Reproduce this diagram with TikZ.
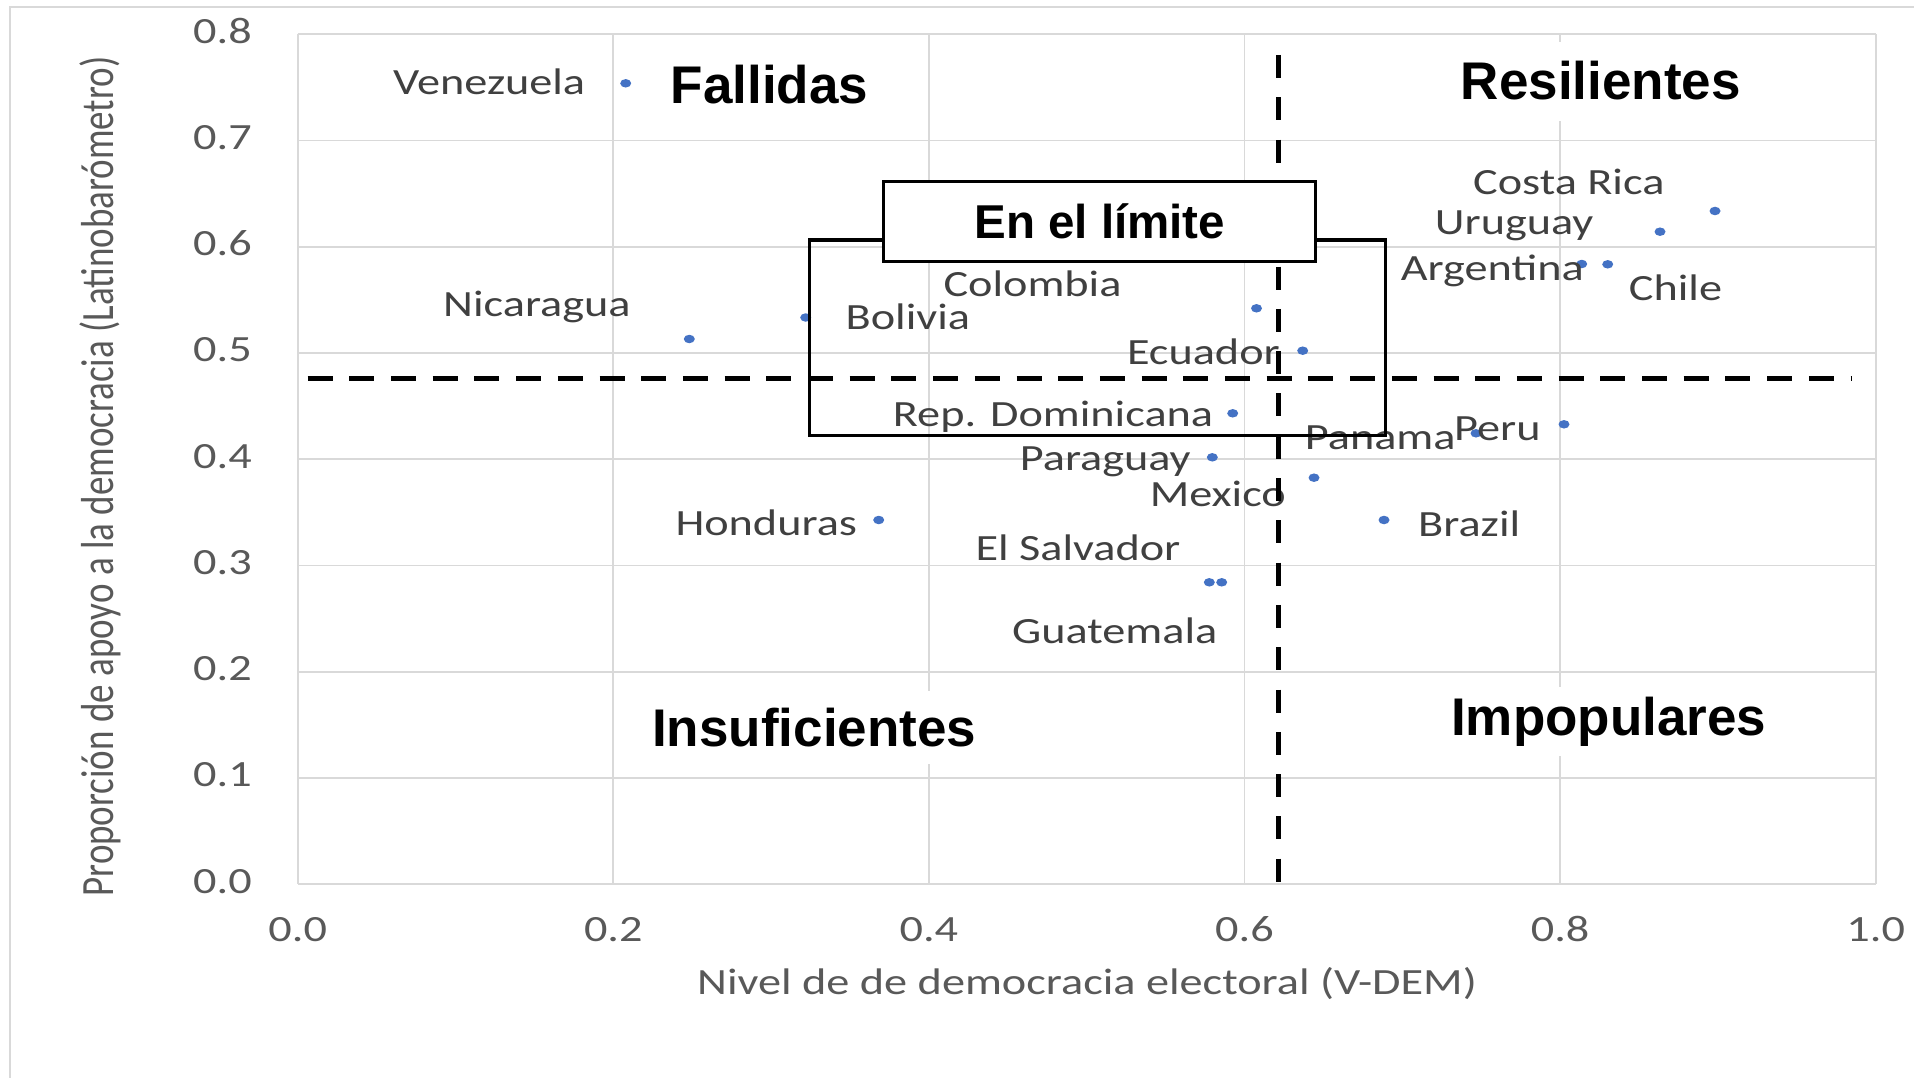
\documentclass[tikz,border=0pt]{standalone}
\usepackage{fontspec}
\setmainfont{Carlito}
\newfontfamily\lsans{Liberation Sans}
\usepackage{graphicx}
\usetikzlibrary{shapes.geometric}
\definecolor{gridc}{HTML}{D9D9D9}
\definecolor{labc}{HTML}{404040}
\definecolor{tickc}{HTML}{595959}
\definecolor{dotc}{HTML}{4472C4}
\newcommand{\stretchtxt}[1]{\scalebox{1.25}[1]{#1}}
\begin{document}
\begin{tikzpicture}[x=1pt,y=-1pt,
  gridline/.style={draw=gridc, line width=1.8},
  dot/.style={ellipse, fill=dotc, inner sep=0, minimum width=11, minimum height=8.5},
  lbl/.style={text=labc, inner sep=0, anchor=base west, font=\fontsize{37}{41}\selectfont},
  ticklbl/.style={text=tickc, inner sep=0, font=\fontsize{37}{41}\selectfont},
  quad/.style={fill=white, inner xsep=10, anchor=base west, font=\lsans\bfseries\fontsize{53}{60}\selectfont},
  divline/.style={line width=5, dash pattern=on 23 off 19.3},
  boxline/.style={draw=black, line width=3}
]
\useasboundingbox (0,0) rectangle (1914,1078);
\fill[white] (0,0) rectangle (1914,1078);
% outer chart frame
\draw[gridc, line width=2] (10,1078) -- (10,7.5) -- (1914,7.5);
% grid
\foreach \i in {0,...,5} \draw[gridline] ({297.7+315.6*\i},34.3) -- ({297.7+315.6*\i},884.3);
\foreach \j in {0,...,8} \draw[gridline] (297.7,{884.3-106.25*\j}) -- (1875.7,{884.3-106.25*\j});
% tick labels
\foreach \i/\t in {0/0.0,1/0.2,2/0.4,3/0.6,4/0.8,5/1.0}
  \node[ticklbl, anchor=base] (xt\i) at ({297.7+315.6*\i},941.7) {\stretchtxt{\t}};
\foreach \j/\t in {0/0.0,1/0.1,2/0.2,3/0.3,4/0.4,5/0.5,6/0.6,7/0.7,8/0.8}
  \node[ticklbl, anchor=base east] (yt\j) at (252,{884.3-106.25*\j+8.9}) {\stretchtxt{\t}};
% axis titles
\node[ticklbl, anchor=base] (xtitle) at (1087,994) {\stretchtxt{Nivel de de democracia electoral (V-DEM)}};
\node[ticklbl, anchor=base, rotate=90] (ytitle) at (113,476.5) {\scalebox{1}[1.25]{Proporción de apoyo a la democracia (Latinobarómetro)}};
% quadrant titles
\node[quad, inner ysep=12] (fall) at (660.7,104) {Fallidas};
\node[quad, inner ysep=20] (resil) at (1450.7,100) {Resilientes};
\node[quad, inner ysep=17] (insuf) at (642,746) {Insuficientes};
\node[quad, inner ysep=10] (impop) at (1441,735) {Impopulares};
% data points
\node[dot] (pven) at (625.7,83.3) {};
\node[dot] (pnic) at (689.3,339) {};
\node[dot] (pbol) at (805.7,317.5) {};
\node[dot] (pcol) at (1256.5,308.3) {};
\node[dot] (pecu) at (1302.7,350.7) {};
\node[dot] (prd) at (1232.7,413.3) {};
\node[dot] (ppar) at (1212.3,457.3) {};
\node[dot] (pmex) at (1314,477.7) {};
\node[dot] (phon) at (878.7,520) {};
\node[dot] (psal) at (1209.3,582.3) {};
\node[dot] (pgua) at (1221.7,582.3) {};
\node[dot] (ppan) at (1476,433.3) {};
\node[dot] (pper) at (1564,424.3) {};
\node[dot] (pbra) at (1384,520) {};
\node[dot] (pcr) at (1715,211) {};
\node[dot] (puru) at (1660,231.7) {};
\node[dot] (parg) at (1581.7,264) {};
\node[dot] (pchi) at (1607.7,264.3) {};
% data labels
\node[lbl] (lven) at (393,95) {\stretchtxt{Venezuela}};
\node[lbl] (lnic) at (443,316.7) {\stretchtxt{Nicaragua}};
\node[lbl] (lbol) at (845.5,329.5) {\stretchtxt{Bolivia}};
\node[lbl] (lcol) at (943.3,296.7) {\stretchtxt{Colombia}};
\node[lbl] (lecu) at (1126.8,364) {\stretchtxt{Ecuador}};
\node[lbl] (lrd) at (892.7,426.7) {\stretchtxt{Rep. Dominicana}};
\node[lbl] (lpar) at (1019.7,470.7) {\stretchtxt{Paraguay}};
\node[lbl, anchor=base east] (lmex) at (1286,506) {\stretchtxt{Mexico}};
\node[lbl] (lhon) at (675.3,535) {\stretchtxt{Honduras}};
\node[lbl] (lsal) at (975.3,560) {\stretchtxt{El Salvador}};
\node[lbl] (lgua) at (1012,643.3) {\stretchtxt{Guatemala}};
\node[lbl] (lpan) at (1304.7,449.3) {\stretchtxt{Panama}};
\node[lbl] (lper) at (1454,440) {\stretchtxt{Peru}};
\node[lbl] (lbra) at (1418,536.7) {\stretchtxt{Brazil}};
\node[lbl] (lcr) at (1473,195) {\stretchtxt{Costa Rica}};
\node[lbl] (luru) at (1434.7,235) {\stretchtxt{Uruguay}};
\node[lbl] (larg) at (1400.7,280) {\stretchtxt{Argentina}};
\node[lbl] (lchi) at (1628.7,300) {\stretchtxt{Chile}};
% dividing dashed lines
\coordinate (vtop) at (1278.3,55);
\coordinate (vbot) at (1278.3,882);
\draw[divline] (vtop) -- (vbot);
\coordinate (hleft) at (307.6,378.3);
\coordinate (hright) at (1851,378.3);
\draw[divline, dash pattern=on 25 off 16.7] (hleft) -- (hright);
% "En el limite" region
\draw[boxline] (809.7,240) rectangle (1385,435.5);
\node[boxline, fill=white, minimum width=432.2, minimum height=79.3, text height=34, text depth=0, inner sep=0, font=\lsans\bfseries\fontsize{47.5}{50}\selectfont] (lim) at (1099.7,221.35) {En el límite};
\end{tikzpicture}
\end{document}
